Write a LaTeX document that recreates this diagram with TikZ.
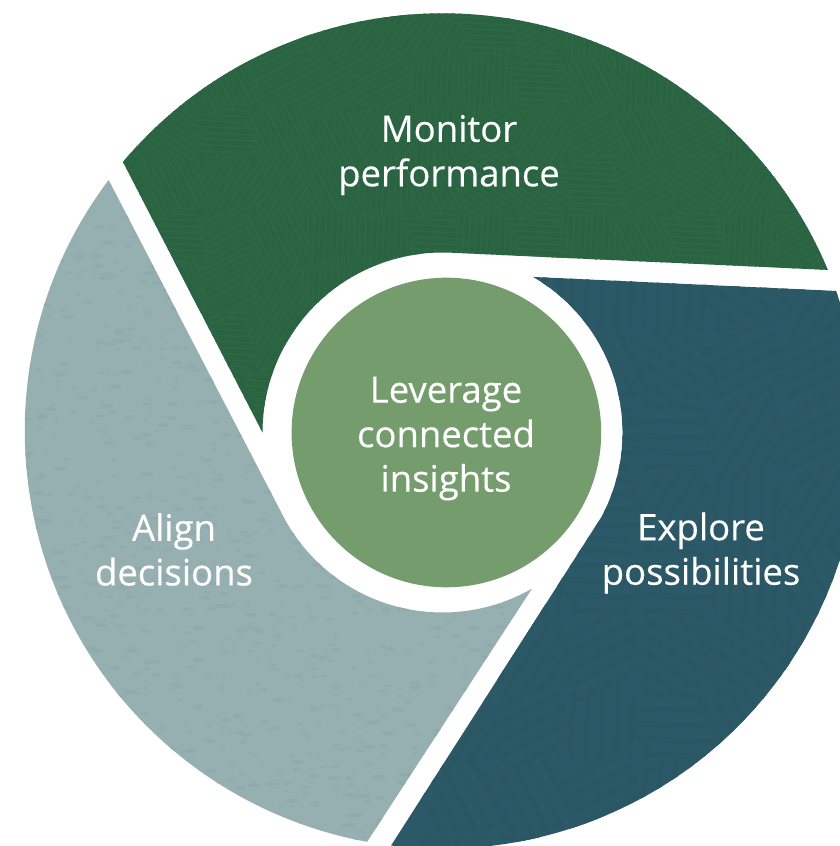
\documentclass[tikz,border=0pt]{standalone}
\usepackage{fontspec}
\newfontfamily\labelfont[FakeBold=0.3]{Open Sans}
\definecolor{monitorgreen}{HTML}{2A6341}
\definecolor{monitorline}{HTML}{2D6744}
\definecolor{exploreblue}{HTML}{2C5967}
\definecolor{exploreline}{HTML}{2B5664}
\definecolor{aligngrey}{HTML}{96B0B1}
\definecolor{alignspeck}{HTML}{90ABAD}
\definecolor{hubgreen}{HTML}{759C6C}
\tikzset{
  label/.style={text=white,align=center,inner sep=0pt,font=\fontsize{36.5}{44.5}\selectfont\labelfont},
}
\def\monitorpath{([shift={(C)}]139.91:417.7pt) arc[start angle=139.91,end angle=22.69,radius=417.7pt]
  -- ([shift={(K)}]87.2:180pt) arc[start angle=87.2,end angle=180,radius=180pt] -- cycle}
\def\explorepath{([shift={(K)}]59.8:180pt) -- ([shift={(C)}]19.59:417.7pt)
  arc[start angle=19.59,end angle=-97.07,radius=417.7pt]
  -- ([shift={(K)}]-27.9:180pt) arc[start angle=-27.9,end angle=59.8,radius=180pt] -- cycle}
\def\alignpath{([shift={(C)}]143.06:417.7pt) arc[start angle=143.06,end angle=259.6,radius=417.7pt]
  -- ([shift={(K)}]299.8:180pt) arc[start angle=299.8,end angle=208.75,radius=180pt] -- cycle}
\begin{document}
\begin{tikzpicture}[x=1pt,y=1pt]
\useasboundingbox (0,0) rectangle (840,846);
\fill[white] (0,0) rectangle (840,846);
\coordinate (C) at (442.5,415);
\coordinate (K) at (442.5,413.5);
\pgfmathsetseed{11}
\begin{scope}
\clip (0,0) rectangle (840,846);
% Monitor performance
\fill[monitorgreen] \monitorpath;
\begin{scope}
  \clip \monitorpath;
  \foreach \tx in {0,1,...,16}{\foreach \ty in {8,9,...,16}{%
    \pgfmathsetmacro{\tang}{int(random(0,5))*30+10}%
    \begin{scope}[shift={(\tx*52,\ty*52)},rotate=17]
      \begin{scope}
        \clip (0,0) rectangle (58,58);
        \begin{scope}[shift={(29,29)},rotate=\tang]
          \foreach \ln in {-7,...,7}{\draw[monitorline,line width=1.6pt] (-50,\ln*6) -- (50,\ln*6);}
        \end{scope}
      \end{scope}
    \end{scope}}}
\end{scope}
% Explore possibilities
\fill[exploreblue] \explorepath;
\begin{scope}
  \clip \explorepath;
  \foreach \tx in {6,7,...,12}{\foreach \ty in {-1,0,...,8}{%
    \pgfmathsetmacro{\tang}{int(random(0,5))*30+10}%
    \begin{scope}[shift={(\tx*72,\ty*72)},rotate=17]
      \begin{scope}
        \clip (0,0) rectangle (78,78);
        \begin{scope}[shift={(39,39)},rotate=\tang]
          \foreach \ln in {-3,...,3}{\draw[exploreline,line width=5pt] (-70,\ln*15) -- (70,\ln*15);}
        \end{scope}
      \end{scope}
    \end{scope}}}
\end{scope}
% Align decisions
\fill[aligngrey] \alignpath;
\begin{scope}
  \clip \alignpath;
  \foreach \sp in {1,...,1500}{%
    \pgfmathsetmacro{\sx}{random(20,540)}%
    \pgfmathsetmacro{\sy}{random(0,680)}%
    \pgfmathsetmacro{\srx}{2+5*rnd^2}%
    \fill[alignspeck] (\sx,\sy) ellipse[x radius=\srx pt,y radius=0.2*\srx pt+0.8pt];}
\end{scope}
\end{scope}
\node[circle,fill=hubgreen,minimum size=309.6pt,inner sep=0pt] (hub) at (446.4,413.5) {};
\node[label] (hubtext) at (446,407.5) {Leverage\\connected\\insights};
\node[label] (monitor) at (449,691) {Monitor\\performance};
\node[label] (align) at (174,296.5) {Align\\decisions};
\node[label] (explore) at (701,293) {Explore\\possibilities};
\end{tikzpicture}
\end{document}
